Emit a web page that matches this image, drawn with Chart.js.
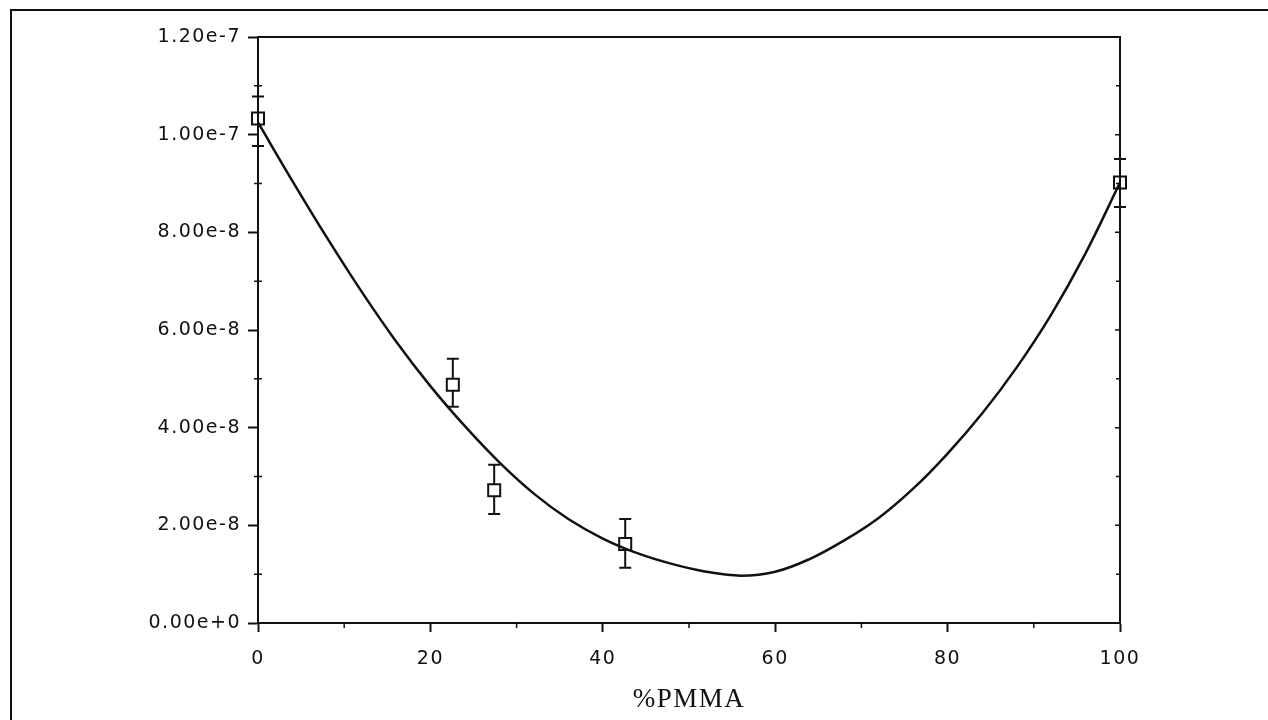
<!DOCTYPE html>
<html lang="en">
<head>
<meta charset="UTF-8">
<title>%PMMA</title>
<script src="https://cdn.jsdelivr.net/npm/chart.js"></script>
<style>
  body { margin: 0; background: #fff; }
  .frame { position: absolute; left: 10px; top: 9px; right: 0; bottom: 0; border-top: 2px solid #111; border-left: 2px solid #111; }
  canvas { position: absolute; left: 0; top: 0; }
</style>
</head>
<body>
<div class="frame"></div>
<canvas id="chart" width="1268" height="720"></canvas>
<script>
// measured points (x = %PMMA)
const pmma = [0, 22.6, 27.4, 42.6, 100];
const values = [1.033e-7, 4.88e-8, 2.72e-8, 1.62e-8, 9.02e-8];
const errHigh = [1.078e-7, 5.41e-8, 3.24e-8, 2.13e-8, 9.50e-8];
const errLow = [9.77e-8, 4.43e-8, 2.23e-8, 1.13e-8, 8.52e-8];

// fitted curve
const fitX = [0, 4, 8, 12, 16, 20, 24, 28, 32, 36, 40, 44, 48, 52, 56, 60, 64, 68, 72, 76, 80, 84, 88, 92, 96, 100];
const fitY = [10.25e-8, 9.05e-8, 7.89e-8, 6.79e-8, 5.77e-8, 4.85e-8, 4.03e-8, 3.29e-8, 2.65e-8, 2.13e-8, 1.73e-8, 1.43e-8,
              1.21e-8, 1.05e-8, 0.97e-8, 1.05e-8, 1.31e-8, 1.69e-8, 2.15e-8, 2.75e-8, 3.47e-8, 4.29e-8, 5.23e-8, 6.31e-8, 7.57e-8, 9.02e-8];

const xTicks = [0, 20, 40, 60, 80, 100];
const xMinor = [10, 30, 50, 70, 90];
const yTicks = [0, 2e-8, 4e-8, 6e-8, 8e-8, 1e-7, 1.2e-7];
const yMinor = [1e-8, 3e-8, 5e-8, 7e-8, 9e-8, 1.1e-7];

const ink = '#111';

const errorBars = {
  id: 'errorBars',
  beforeDatasetsDraw(chart) {
    const { ctx, scales: { x, y } } = chart;
    ctx.save();
    ctx.strokeStyle = ink;
    ctx.lineWidth = 2;
    pmma.forEach((p, i) => {
      const px = x.getPixelForValue(p);
      const top = y.getPixelForValue(errHigh[i]);
      const bot = y.getPixelForValue(errLow[i]);
      ctx.beginPath();
      ctx.moveTo(px, top); ctx.lineTo(px, bot);
      ctx.moveTo(px - 6, top); ctx.lineTo(px + 6, top);
      ctx.moveTo(px - 6, bot); ctx.lineTo(px + 6, bot);
      ctx.stroke();
    });
    ctx.restore();
  }
};

const boxAndMinor = {
  id: 'boxAndMinor',
  beforeDraw(chart) {
    chart.ctx.letterSpacing = '1.5px';
  },
  afterDraw(chart) {
    const { ctx, chartArea: a, scales: { x, y } } = chart;
    ctx.save();
    ctx.strokeStyle = ink;
    ctx.lineWidth = 2;
    ctx.strokeRect(a.left, a.top, a.right - a.left, a.bottom - a.top);
    ctx.lineWidth = 1.5;
    ctx.beginPath();
    yMinor.forEach(v => {
      const py = y.getPixelForValue(v);
      ctx.moveTo(a.left - 4, py); ctx.lineTo(a.left + 4, py);
      ctx.moveTo(a.right - 4, py); ctx.lineTo(a.right, py);
    });
    yTicks.forEach(v => {
      const py = y.getPixelForValue(v);
      ctx.moveTo(a.right - 5, py); ctx.lineTo(a.right, py);
    });
    xMinor.forEach(v => {
      const px = x.getPixelForValue(v);
      ctx.moveTo(px, a.bottom); ctx.lineTo(px, a.bottom + 5);
    });
    ctx.stroke();
    ctx.restore();
  }
};

new Chart(document.getElementById('chart'), {
  type: 'scatter',
  data: {
    datasets: [{
      type: 'line',
      data: fitX.map((v, i) => ({ x: v, y: fitY[i] })),
      borderColor: ink,
      borderWidth: 2.5,
      pointRadius: 0,
      tension: 0.4,
      clip: false
    }, {
      data: pmma.map((v, i) => ({ x: v, y: values[i] })),
      pointStyle: 'rect',
      pointRadius: 8.5,
      pointBorderWidth: 2,
      pointBorderColor: ink,
      pointBackgroundColor: '#fff',
      clip: false
    }]
  },
  options: {
    responsive: false,
    animation: false,
    layout: { padding: { top: 37, right: 148, left: 0, bottom: 0 } },
    plugins: { legend: { display: false }, tooltip: { enabled: false } },
    scales: {
      x: {
        type: 'linear', min: 0, max: 100,
        afterFit(s) { s.height = 97; },
        afterBuildTicks(s) { s.ticks = xTicks.map(v => ({ value: v })); },
        grid: { drawOnChartArea: false, tickLength: 9, tickColor: ink, tickWidth: 2 },
        border: { color: ink, width: 2 },
        ticks: { color: ink, padding: 16, font: { family: 'DejaVu Sans', size: 19 } },
        title: { display: true, text: '%PMMA', color: ink, padding: { bottom: 4 },
                 font: { family: 'Liberation Serif', size: 27 } }
      },
      y: {
        type: 'linear', min: 0, max: 1.2e-7,
        afterFit(s) { s.width = 258; },
        afterBuildTicks(s) { s.ticks = yTicks.map(v => ({ value: v })); },
        grid: { drawOnChartArea: false, tickLength: 10, tickColor: ink, tickWidth: 2 },
        border: { color: ink, width: 2 },
        ticks: { color: ink, padding: 7, font: { family: 'DejaVu Sans', size: 19 },
                 callback: v => Number(v).toExponential(2) }
      }
    }
  },
  plugins: [errorBars, boxAndMinor]
});
</script>
</body>
</html>
